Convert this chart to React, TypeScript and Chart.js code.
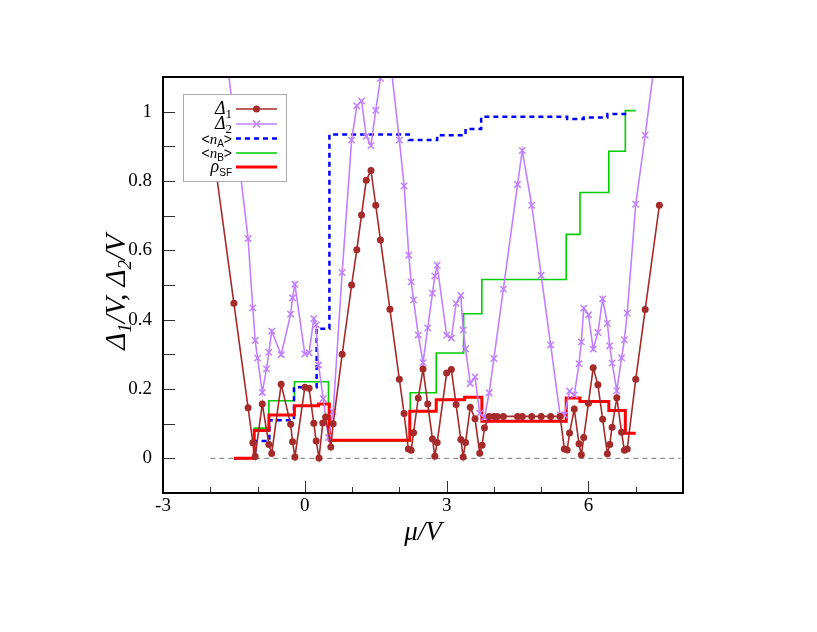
import React, { useEffect, useRef } from 'react';
import { Chart, registerables } from 'chart.js';

Chart.register(...registerables);

// ---------- data ----------
const delta1Mu = [-2.0, -1.5, -1.2, -1.1, -1.05, -0.9, -0.76, -0.7, -0.5, -0.3, -0.26, -0.21, 0.0, 0.09, 0.19, 0.24, 0.3, 0.38, 0.44, 0.55, 0.6, 0.79, 0.99, 1.1, 1.2, 1.3, 1.4, 1.5, 1.6, 1.8, 2.0, 2.1, 2.19, 2.25, 2.3, 2.4, 2.5, 2.6, 2.7, 2.75, 2.8, 3.0, 3.1, 3.2, 3.3, 3.35, 3.4, 3.5, 3.6, 3.7, 3.75, 3.8, 3.9, 4.0, 4.07, 4.2, 4.5, 4.6, 4.8, 5.0, 5.2, 5.4, 5.49, 5.55, 5.6, 5.7, 5.8, 5.85, 5.9, 6.0, 6.1, 6.2, 6.3, 6.4, 6.45, 6.5, 6.6, 6.7, 6.76, 6.82, 7.0, 7.2, 7.5];
const delta1Val = [0.95, 0.447, 0.146, 0.045, 0.005, 0.157, 0.04, 0.014, 0.214, 0.098, 0.048, 0.004, 0.205, 0.202, 0.101, 0.05, 0.001, 0.102, 0.119, 0.033, 0.1, 0.3, 0.5, 0.602, 0.702, 0.802, 0.83, 0.73, 0.63, 0.43, 0.228, 0.129, 0.027, 0.023, 0.074, 0.174, 0.258, 0.157, 0.056, 0.006, 0.046, 0.246, 0.256, 0.155, 0.054, 0.004, 0.046, 0.147, 0.114, 0.015, 0.038, 0.088, 0.121, 0.121, 0.121, 0.121, 0.121, 0.121, 0.121, 0.121, 0.121, 0.121, 0.027, 0.024, 0.073, 0.142, 0.042, 0.01, 0.06, 0.159, 0.261, 0.212, 0.113, 0.013, 0.04, 0.09, 0.175, 0.075, 0.023, 0.027, 0.228, 0.429, 0.73];

const delta2Mu = [-2.0, -1.5, -1.2, -1.1, -1.05, -1.0, -0.9, -0.81, -0.76, -0.7, -0.5, -0.3, -0.26, -0.21, 0.0, 0.09, 0.19, 0.24, 0.29, 0.39, 0.5, 0.6, 0.79, 0.99, 1.1, 1.2, 1.3, 1.4, 1.5, 1.6, 1.8, 2.0, 2.1, 2.2, 2.25, 2.3, 2.4, 2.5, 2.6, 2.7, 2.75, 2.8, 3.0, 3.1, 3.2, 3.3, 3.35, 3.4, 3.5, 3.6, 3.7, 3.8, 3.9, 4.0, 4.2, 4.5, 4.6, 4.8, 5.0, 5.2, 5.4, 5.49, 5.6, 5.7, 5.8, 5.85, 5.9, 6.0, 6.1, 6.2, 6.3, 6.4, 6.45, 6.5, 6.6, 6.7, 6.76, 6.82, 7.0, 7.2, 7.5];
const delta2Val = [1.56, 0.98, 0.634, 0.434, 0.34, 0.289, 0.19, 0.258, 0.306, 0.367, 0.299, 0.416, 0.463, 0.502, 0.301, 0.304, 0.403, 0.385, 0.269, 0.172, 0.06, 0.135, 0.536, 0.918, 1.017, 1.031, 0.929, 0.902, 1.004, 1.096, 1.16, 0.918, 0.786, 0.586, 0.509, 0.457, 0.356, 0.276, 0.376, 0.476, 0.526, 0.557, 0.355, 0.347, 0.447, 0.47, 0.37, 0.316, 0.216, 0.235, 0.13, 0.118, 0.189, 0.288, 0.488, 0.79, 0.888, 0.73, 0.528, 0.327, 0.125, 0.125, 0.194, 0.183, 0.273, 0.336, 0.433, 0.414, 0.315, 0.363, 0.46, 0.389, 0.325, 0.275, 0.195, 0.29, 0.342, 0.419, 0.733, 0.932, 1.25];

const nAMu = [-1.5, -1.05, -0.75, -0.23, 0.25, 0.52, 2.2, 2.8, 3.4, 3.73, 5.55, 5.9, 6.4, 6.8];
const nAVal = [0, 0.05, 0.11, 0.205, 0.374, 0.934, 0.918, 0.932, 0.95, 0.985, 0.979, 0.983, 0.993, 0.993];

const nBMu = [-1.5, -1.07, -0.76, -0.22, 0.5, 2.23, 2.78, 3.36, 3.745, 5.53, 5.82, 6.43, 6.78, 7.0];
const nBVal = [0, 0.087, 0.166, 0.221, 0.05, 0.189, 0.304, 0.417, 0.516, 0.646, 0.767, 0.886, 1.003, 1.003];

const rhoMu = [-1.5, -1.07, -0.76, -0.22, 0.29, 0.52, 2.22, 2.78, 3.38, 3.745, 5.53, 5.82, 6.43, 6.78, 7.0];
const rhoVal = [0, 0.08, 0.125, 0.152, 0.157, 0.052, 0.136, 0.169, 0.176, 0.107, 0.174, 0.164, 0.138, 0.072, 0.072];

const zeroMu = [-2.0, 7.95];
const zeroVal = [0, 0];

const xMajorTicks = [-3, 0, 3, 6];
const xTickLabels = ['-3', '0', '3', '6'];
const xMinorTicks = [-2, -1, 1, 2, 4, 5, 7];
const yMajorTicks = [0, 0.2, 0.4, 0.6, 0.8, 1];
const yTickLabels = ['0', '0.2', '0.4', '0.6', '0.8', '1'];
const yMinorTicks = [0.1, 0.3, 0.5, 0.7, 0.9];

const C_D1 = '#a52a2a';
const C_D2 = '#c080ff';
const C_NA = '#0000ff';
const C_NB = '#00cc00';
const C_RHO = '#ff0000';

const SERIF = '"Liberation Serif", "Times New Roman", serif';
const SANS = '"Liberation Sans", Arial, sans-serif';

type Part = { t: string; f: string; dy?: number };

function richWidth(ctx: CanvasRenderingContext2D, parts: Part[]) {
  let w = 0;
  for (const p of parts) {
    ctx.font = p.f;
    w += ctx.measureText(p.t).width;
  }
  return w;
}

function drawRich(ctx: CanvasRenderingContext2D, parts: Part[], x: number, y: number, align: 'left' | 'right' | 'center') {
  const w = richWidth(ctx, parts);
  let cx = align === 'left' ? x : align === 'right' ? x - w : x - w / 2;
  ctx.textAlign = 'left';
  ctx.textBaseline = 'alphabetic';
  for (const p of parts) {
    ctx.font = p.f;
    ctx.fillText(p.t, cx, y + (p.dy || 0));
    cx += ctx.measureText(p.t).width;
  }
}

const pts = (xs: number[], ys: number[]) => xs.map((x, i) => ({ x, y: ys[i] }));

const decorPlugin = {
  id: 'decor',
  afterDraw(chart: any) {
    const { ctx, chartArea, scales } = chart;
    const { left, right, top, bottom } = chartArea;
    const xs = scales.x;
    const ys = scales.y;
    ctx.save();

    // inward tick marks
    ctx.strokeStyle = '#333';
    ctx.lineWidth = 1;
    const seg = (x1: number, y1: number, x2: number, y2: number) => {
      ctx.beginPath();
      ctx.moveTo(x1, y1);
      ctx.lineTo(x2, y2);
      ctx.stroke();
    };
    xMajorTicks.forEach((v) => { const p = Math.round(xs.getPixelForValue(v)) + 0.5; seg(p, bottom, p, bottom - 12); });
    xMinorTicks.forEach((v) => { const p = Math.round(xs.getPixelForValue(v)) + 0.5; seg(p, bottom, p, bottom - 6); });
    yMajorTicks.forEach((v) => { const p = Math.round(ys.getPixelForValue(v)) + 0.5; seg(left, p, left + 12, p); });
    yMinorTicks.forEach((v) => { const p = Math.round(ys.getPixelForValue(v)) + 0.5; seg(left, p, left + 12, p); });

    // frame
    ctx.strokeStyle = '#000';
    ctx.lineWidth = 2;
    ctx.strokeRect(left, top, right - left, bottom - top);

    // legend box
    const lx = 183.5, ly = 94.5, lw = 103, lh = 87;
    ctx.fillStyle = '#fff';
    ctx.fillRect(lx, ly, lw, lh);
    ctx.strokeStyle = '#aaa';
    ctx.lineWidth = 1;
    ctx.strokeRect(lx, ly, lw, lh);

    const textRight = 232;
    const s1 = 236, s2 = 277;
    const rows = [109, 124, 138.5, 153, 167];
    const labels: Part[][] = [
      [{ t: 'Δ', f: `italic 18px ${SERIF}` }, { t: '1', f: `13px ${SERIF}`, dy: 4 }],
      [{ t: 'Δ', f: `italic 18px ${SERIF}` }, { t: '2', f: `13px ${SERIF}`, dy: 4 }],
      [{ t: '<', f: `14px ${SANS}` }, { t: 'n', f: `italic 15px ${SERIF}` }, { t: 'A', f: `10px ${SANS}`, dy: 3 }, { t: '>', f: `14px ${SANS}` }],
      [{ t: '<', f: `14px ${SANS}` }, { t: 'n', f: `italic 15px ${SERIF}` }, { t: 'B', f: `10px ${SANS}`, dy: 3 }, { t: '>', f: `14px ${SANS}` }],
      [{ t: 'ρ', f: `italic 18px ${SERIF}` }, { t: 'SF', f: `10px ${SANS}`, dy: 4 }],
    ];
    labels.forEach((parts, i) => {
      ctx.fillStyle = '#000';
      drawRich(ctx, parts, textRight, rows[i] + 5, 'right');
    });
    const sample = (y: number, color: string, width: number, dash: number[]) => {
      ctx.strokeStyle = color;
      ctx.lineWidth = width;
      ctx.setLineDash(dash);
      seg(s1, y, s2, y);
      ctx.setLineDash([]);
    };
    sample(rows[0], C_D1, 1.6, []);
    ctx.fillStyle = C_D1;
    ctx.beginPath();
    ctx.arc((s1 + s2) / 2, rows[0], 3.5, 0, Math.PI * 2);
    ctx.fill();
    sample(rows[1], C_D2, 1.6, []);
    ctx.strokeStyle = C_D2;
    ctx.lineWidth = 1.5;
    const m = (s1 + s2) / 2, r = 3.5;
    seg(m - r, rows[1] - r, m + r, rows[1] + r);
    seg(m - r, rows[1] + r, m + r, rows[1] - r);
    sample(rows[2], C_NA, 2.5, [5, 4]);
    sample(rows[3], C_NB, 1.6, []);
    sample(rows[4], C_RHO, 3, []);

    // axis titles
    ctx.fillStyle = '#000';
    drawRich(ctx, [{ t: 'μ/V', f: `italic 27px ${SERIF}` }], 423, 540, 'center');

    ctx.save();
    ctx.translate(125, 292);
    ctx.rotate(-Math.PI / 2);
    drawRich(
      ctx,
      [
        { t: 'Δ', f: `italic 29px ${SERIF}` },
        { t: '1', f: `italic 19px ${SERIF}`, dy: 6 },
        { t: '/V, ', f: `italic 29px ${SERIF}` },
        { t: 'Δ', f: `italic 29px ${SERIF}` },
        { t: '2', f: `italic 19px ${SERIF}`, dy: 6 },
        { t: '/V', f: `italic 29px ${SERIF}` },
      ],
      0,
      0,
      'center'
    );
    ctx.restore();

    ctx.restore();
  },
};

export default function App() {
  const canvasRef = useRef<HTMLCanvasElement | null>(null);

  useEffect(() => {
    document.body.style.margin = '0';
    const canvas = canvasRef.current;
    if (!canvas) return;
    const chart = new Chart(canvas, {
      type: 'line',
      data: {
        datasets: [
          {
            label: 'Δ1',
            data: pts(delta1Mu, delta1Val),
            borderColor: C_D1,
            backgroundColor: C_D1,
            borderWidth: 1.6,
            pointStyle: 'circle',
            pointRadius: 3.5,
            pointBorderWidth: 0,
            order: 0,
          },
          {
            label: 'Δ2',
            data: pts(delta2Mu, delta2Val),
            borderColor: C_D2,
            backgroundColor: C_D2,
            borderWidth: 1.6,
            pointStyle: 'crossRot',
            pointRadius: 4.5,
            pointBorderWidth: 1.5,
            order: 1,
          },
          {
            label: 'ρSF',
            data: pts(rhoMu, rhoVal),
            borderColor: C_RHO,
            borderWidth: 3,
            pointRadius: 0,
            stepped: 'before',
            order: 2,
          },
          {
            label: '<nA>',
            data: pts(nAMu, nAVal),
            borderColor: C_NA,
            borderWidth: 2.5,
            borderDash: [5, 4],
            pointRadius: 0,
            stepped: 'before',
            order: 3,
          },
          {
            label: '<nB>',
            data: pts(nBMu, nBVal),
            borderColor: C_NB,
            borderWidth: 1.6,
            pointRadius: 0,
            stepped: 'before',
            order: 4,
          },
          {
            label: 'zero',
            data: pts(zeroMu, zeroVal),
            borderColor: '#777',
            borderWidth: 1,
            borderDash: [5, 4],
            pointRadius: 0,
            order: 5,
          },
        ],
      },
      options: {
        animation: false,
        responsive: false,
        events: [],
        layout: { padding: { top: 77, right: 134, left: 0, bottom: 0 } },
        plugins: { legend: { display: false }, tooltip: { enabled: false } },
        elements: { line: { tension: 0 } },
        scales: {
          x: {
            type: 'linear',
            min: -3,
            max: 8,
            grid: { display: false, drawTicks: false },
            border: { display: false },
            afterBuildTicks: (s: any) => { s.ticks = xMajorTicks.map((v) => ({ value: v })); },
            afterFit: (s: any) => { s.height = 139; },
            ticks: {
              padding: 2,
              color: '#000',
              maxRotation: 0,
              autoSkip: false,
              font: { family: SERIF, size: 19 },
              callback: (_v: any, i: number) => xTickLabels[i],
            },
          },
          y: {
            type: 'linear',
            min: -0.1,
            max: 1.1,
            grid: { display: false, drawTicks: false },
            border: { display: false },
            afterBuildTicks: (s: any) => { s.ticks = yMajorTicks.map((v) => ({ value: v })); },
            afterFit: (s: any) => { s.width = 163; },
            ticks: {
              padding: 11,
              color: '#000',
              autoSkip: false,
              font: { family: SERIF, size: 19 },
              callback: (_v: any, i: number) => yTickLabels[i],
            },
          },
        },
      },
      plugins: [decorPlugin],
    } as any);
    return () => chart.destroy();
  }, []);

  return (
    <div style={{ position: 'absolute', left: 0, top: 0, width: 817, height: 632, background: '#fff' }}>
      <canvas ref={canvasRef} width={817} height={632} style={{ width: 817, height: 632, display: 'block' }} />
    </div>
  );
}
